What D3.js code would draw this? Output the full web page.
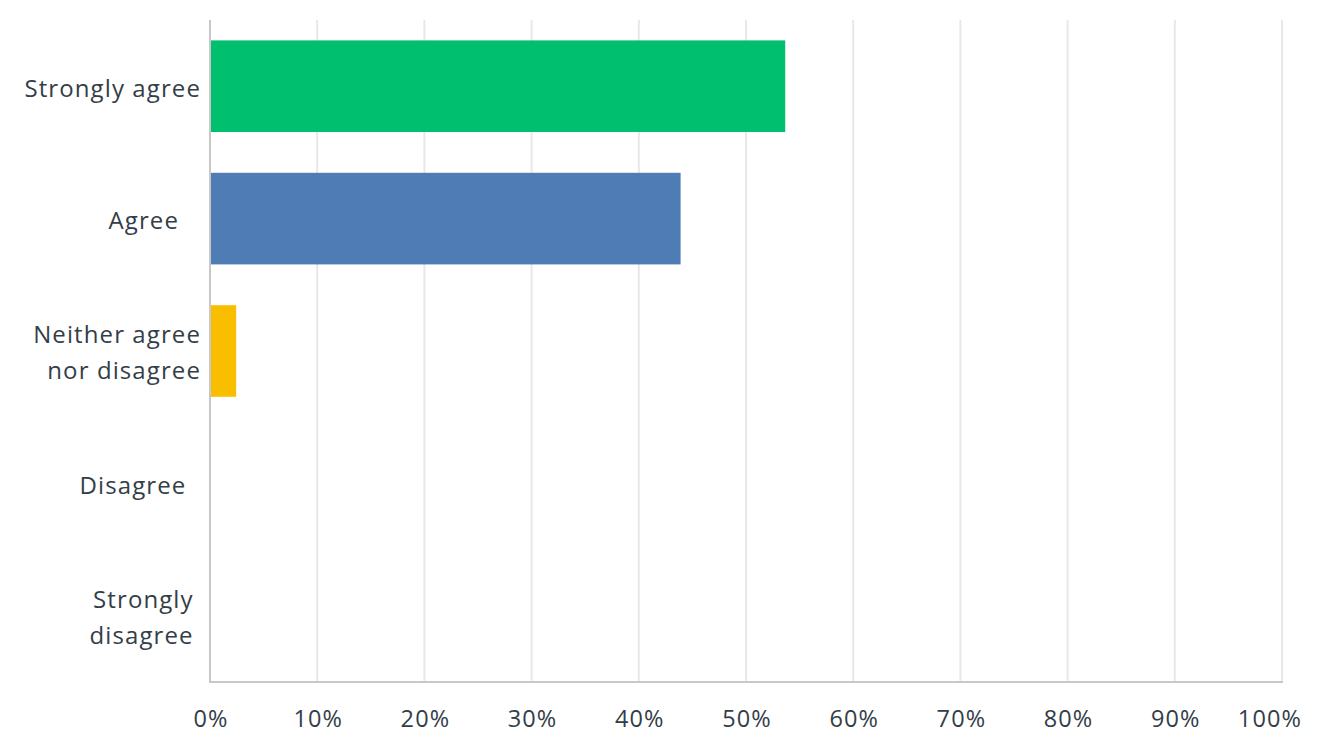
<!DOCTYPE html>
<html><head><meta charset="utf-8">
<script src="https://cdn.jsdelivr.net/npm/d3@7"></script>
<style>
body{margin:0;background:#fff;}
text{font-family:"Open Sans","Noto Sans",sans-serif;fill:#333e48;white-space:pre;letter-spacing:1.1px;}
</style></head>
<body><svg id="c" width="1321" height="745"></svg>
<script>
const categories = [["Strongly agree"],["Agree   "],["Neither agree","nor disagree"],["Disagree  "],["Strongly ","disagree "]];
const values = [53.66, 43.90, 2.44, 0, 0];
const colors = ["#00bf6f","#507cb6","#f9be00","#6bc8cd","#9d9d9d"];
const ticks = [0,10,20,30,40,50,60,70,80,90,100];

const svg = d3.select("#c");
const m = {l:210, r:40, t:20, b:63};
const W = 1321, H = 745;
const x = d3.scaleLinear().domain([0,100]).range([m.l, W - m.r + 1]);
const y = d3.scaleBand().domain(d3.range(categories.length)).range([m.t, H - m.b]).paddingInner(0.308).paddingOuter(0.154);

// grid
svg.append("g").selectAll("line").data(ticks.slice(1)).join("line")
  .attr("x1", d=>x(d)).attr("x2", d=>x(d)).attr("y1", m.t).attr("y2", H-m.b)
  .attr("stroke","#e8e8e8").attr("stroke-width",2);

// bars
svg.append("g").selectAll("rect").data(values).join("rect")
  .attr("x", x(0)).attr("y", (d,i)=>y(i)).attr("width", d=>x(d)-x(0)).attr("height", y.bandwidth())
  .attr("fill", (d,i)=>colors[i]);

// axes lines
svg.append("line").attr("x1",x(0)).attr("x2",x(0)).attr("y1",m.t).attr("y2",H-m.b+1).attr("stroke","#c8c8c8").attr("stroke-width",2);
svg.append("line").attr("x1",x(0)-1).attr("x2",x(100)+1).attr("y1",H-m.b).attr("y2",H-m.b).attr("stroke","#c8c8c8").attr("stroke-width",2);

// x tick labels (clamped inside the right edge)
svg.append("g").selectAll("text").data(ticks).join("text")
  .attr("x", d=>x(d)+1).attr("y", 719).attr("dy","0.35em").attr("text-anchor","middle")
  .attr("font-size", 23.5).text(d=>d+"%")
  .each(function(){
    const b = this.getBBox();
    const maxR = W - 19;
    if (b.x + b.width > maxR) d3.select(this).attr("x", +d3.select(this).attr("x") - (b.x + b.width - maxR));
  });

// y labels
const lg = svg.append("g");
categories.forEach((lines,i)=>{
  const cy = y(i) + y.bandwidth()/2 + 2;
  const lh = 36;
  const t = lg.append("text").attr("text-anchor","end").attr("font-size",24);
  lines.forEach((s,j)=>{
    t.append("tspan").attr("x", 201).attr("y", cy + (j - (lines.length-1)/2)*lh).attr("dy","0.35em").text(s);
  });
});
</script></body></html>
